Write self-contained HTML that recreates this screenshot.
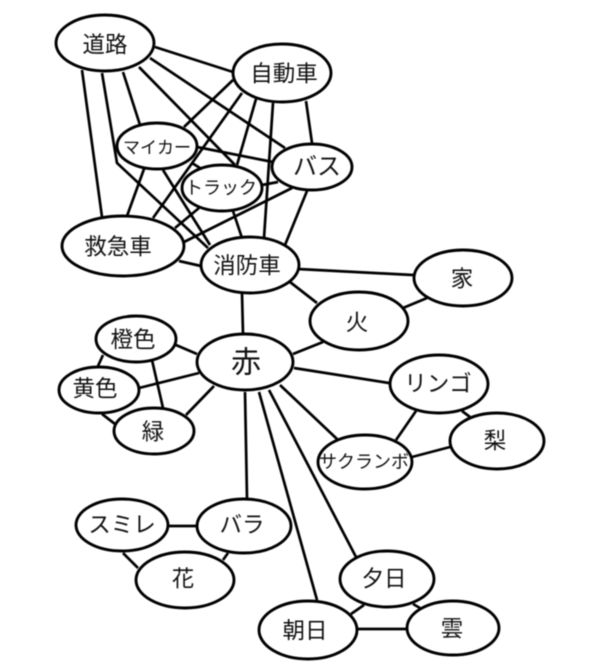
<!DOCTYPE html>
<html lang="ja">
<head>
<meta charset="utf-8">
<style>
html,body{margin:0;padding:0;background:#fff;width:600px;height:670px;overflow:hidden}
svg{display:block;filter:blur(0.4px)}
line,polyline{stroke:#000;stroke-width:2.7;fill:none}
ellipse{stroke:#000;stroke-width:2.9;fill:#fff}
text{font-family:"Liberation Sans","Noto Sans CJK JP",sans-serif;font-size:22.5px;fill:#111;text-anchor:middle;dominant-baseline:central}
</style>
</head>
<body>
<svg width="600" height="670" viewBox="0 0 600 670" xmlns="http://www.w3.org/2000/svg">
<line x1="155" y1="47" x2="233" y2="72"/>
<line x1="150" y1="58" x2="285" y2="148"/>
<line x1="139" y1="67" x2="235" y2="165"/>
<line x1="123" y1="72" x2="140" y2="125"/>
<polyline points="102,73 117,163 208,248"/>
<line x1="82" y1="70" x2="102" y2="217"/>
<line x1="233" y1="80" x2="184" y2="127"/>
<line x1="242" y1="93" x2="153" y2="218"/>
<line x1="256" y1="99" x2="237" y2="165"/>
<line x1="273" y1="103" x2="264" y2="238"/>
<line x1="306" y1="101" x2="312" y2="143"/>
<line x1="197" y1="147" x2="273" y2="162"/>
<line x1="144" y1="169" x2="127" y2="216"/>
<line x1="163" y1="170" x2="210" y2="245"/>
<line x1="192" y1="163" x2="200" y2="168"/>
<line x1="262" y1="185" x2="278" y2="182"/>
<line x1="199" y1="208" x2="175" y2="228"/>
<line x1="233" y1="211" x2="242" y2="238"/>
<line x1="292" y1="188" x2="184" y2="242"/>
<line x1="307" y1="191" x2="285" y2="245"/>
<line x1="179" y1="261" x2="201" y2="266"/>
<line x1="298" y1="269" x2="413" y2="275"/>
<line x1="290" y1="282" x2="317" y2="303"/>
<line x1="242" y1="293" x2="243" y2="334"/>
<line x1="403" y1="308" x2="427" y2="298"/>
<line x1="323" y1="342" x2="293" y2="354"/>
<line x1="294" y1="368" x2="389" y2="383"/>
<line x1="280" y1="385" x2="337" y2="439"/>
<line x1="416" y1="411" x2="396" y2="440"/>
<line x1="462" y1="411" x2="470" y2="417"/>
<line x1="450" y1="447" x2="412" y2="457"/>
<line x1="176" y1="345" x2="197" y2="354"/>
<line x1="139" y1="388" x2="199" y2="373"/>
<line x1="214" y1="386" x2="186" y2="415"/>
<line x1="103" y1="355" x2="98" y2="366"/>
<line x1="152" y1="360" x2="163" y2="408"/>
<line x1="102" y1="414" x2="115" y2="424"/>
<line x1="245" y1="392" x2="247" y2="498"/>
<line x1="259" y1="392" x2="317" y2="600"/>
<line x1="269" y1="390" x2="356" y2="557"/>
<line x1="167" y1="526" x2="197" y2="526"/>
<line x1="123" y1="553" x2="138" y2="568"/>
<line x1="228" y1="553" x2="223" y2="560"/>
<line x1="364" y1="605" x2="351" y2="614"/>
<line x1="413" y1="604" x2="420" y2="608"/>
<line x1="357" y1="629" x2="407" y2="629"/>

<ellipse cx="105" cy="43" rx="49" ry="28"/>
<ellipse cx="282" cy="73" rx="49" ry="29"/>
<ellipse cx="157" cy="146" rx="40" ry="23"/>
<ellipse cx="222" cy="188" rx="40" ry="23"/>
<ellipse cx="312" cy="167" rx="40" ry="23"/>
<ellipse cx="123" cy="246" rx="61" ry="30"/>
<ellipse cx="250" cy="265" rx="49" ry="28"/>
<ellipse cx="463" cy="278" rx="49" ry="28"/>
<ellipse cx="359" cy="321" rx="49" ry="29"/>
<ellipse cx="439" cy="384" rx="49" ry="29"/>
<ellipse cx="497" cy="441" rx="47" ry="28"/>
<ellipse cx="365" cy="462" rx="47" ry="27"/>
<ellipse cx="136" cy="339" rx="40" ry="23"/>
<ellipse cx="99" cy="390" rx="40" ry="23"/>
<ellipse cx="154" cy="431" rx="40" ry="23"/>
<ellipse cx="245" cy="362" rx="48" ry="28"/>
<ellipse cx="122" cy="525" rx="46" ry="26"/>
<ellipse cx="244" cy="526" rx="47" ry="27"/>
<ellipse cx="185" cy="580" rx="49" ry="28"/>
<ellipse cx="387" cy="579" rx="47" ry="28"/>
<ellipse cx="308" cy="630" rx="49" ry="29"/>
<ellipse cx="453" cy="628" rx="46" ry="27"/>

<text x="105" y="45">道路</text>
<text x="284" y="74">自動車</text>
<text x="157" y="148" style="font-size:17px">マイカー</text>
<text x="221" y="188" style="font-size:18px">トラック</text>
<text x="317" y="167" style="font-size:24px">バス</text>
<text x="118" y="247">救急車</text>
<text x="247" y="266">消防車</text>
<text x="462" y="279">家</text>
<text x="357" y="323">火</text>
<text x="438" y="384">リンゴ</text>
<text x="495" y="441">梨</text>
<text x="364" y="462" style="font-size:18px">サクランボ</text>
<text x="133" y="340">橙色</text>
<text x="95" y="389">黄色</text>
<text x="153" y="432">緑</text>
<text x="246" y="363" style="font-size:30px">赤</text>
<text x="122" y="525">スミレ</text>
<text x="242" y="525">バラ</text>
<text x="183" y="579">花</text>
<text x="384" y="579">夕日</text>
<text x="305" y="631">朝日</text>
<text x="452" y="629">雲</text>
</svg>
</body>
</html>
